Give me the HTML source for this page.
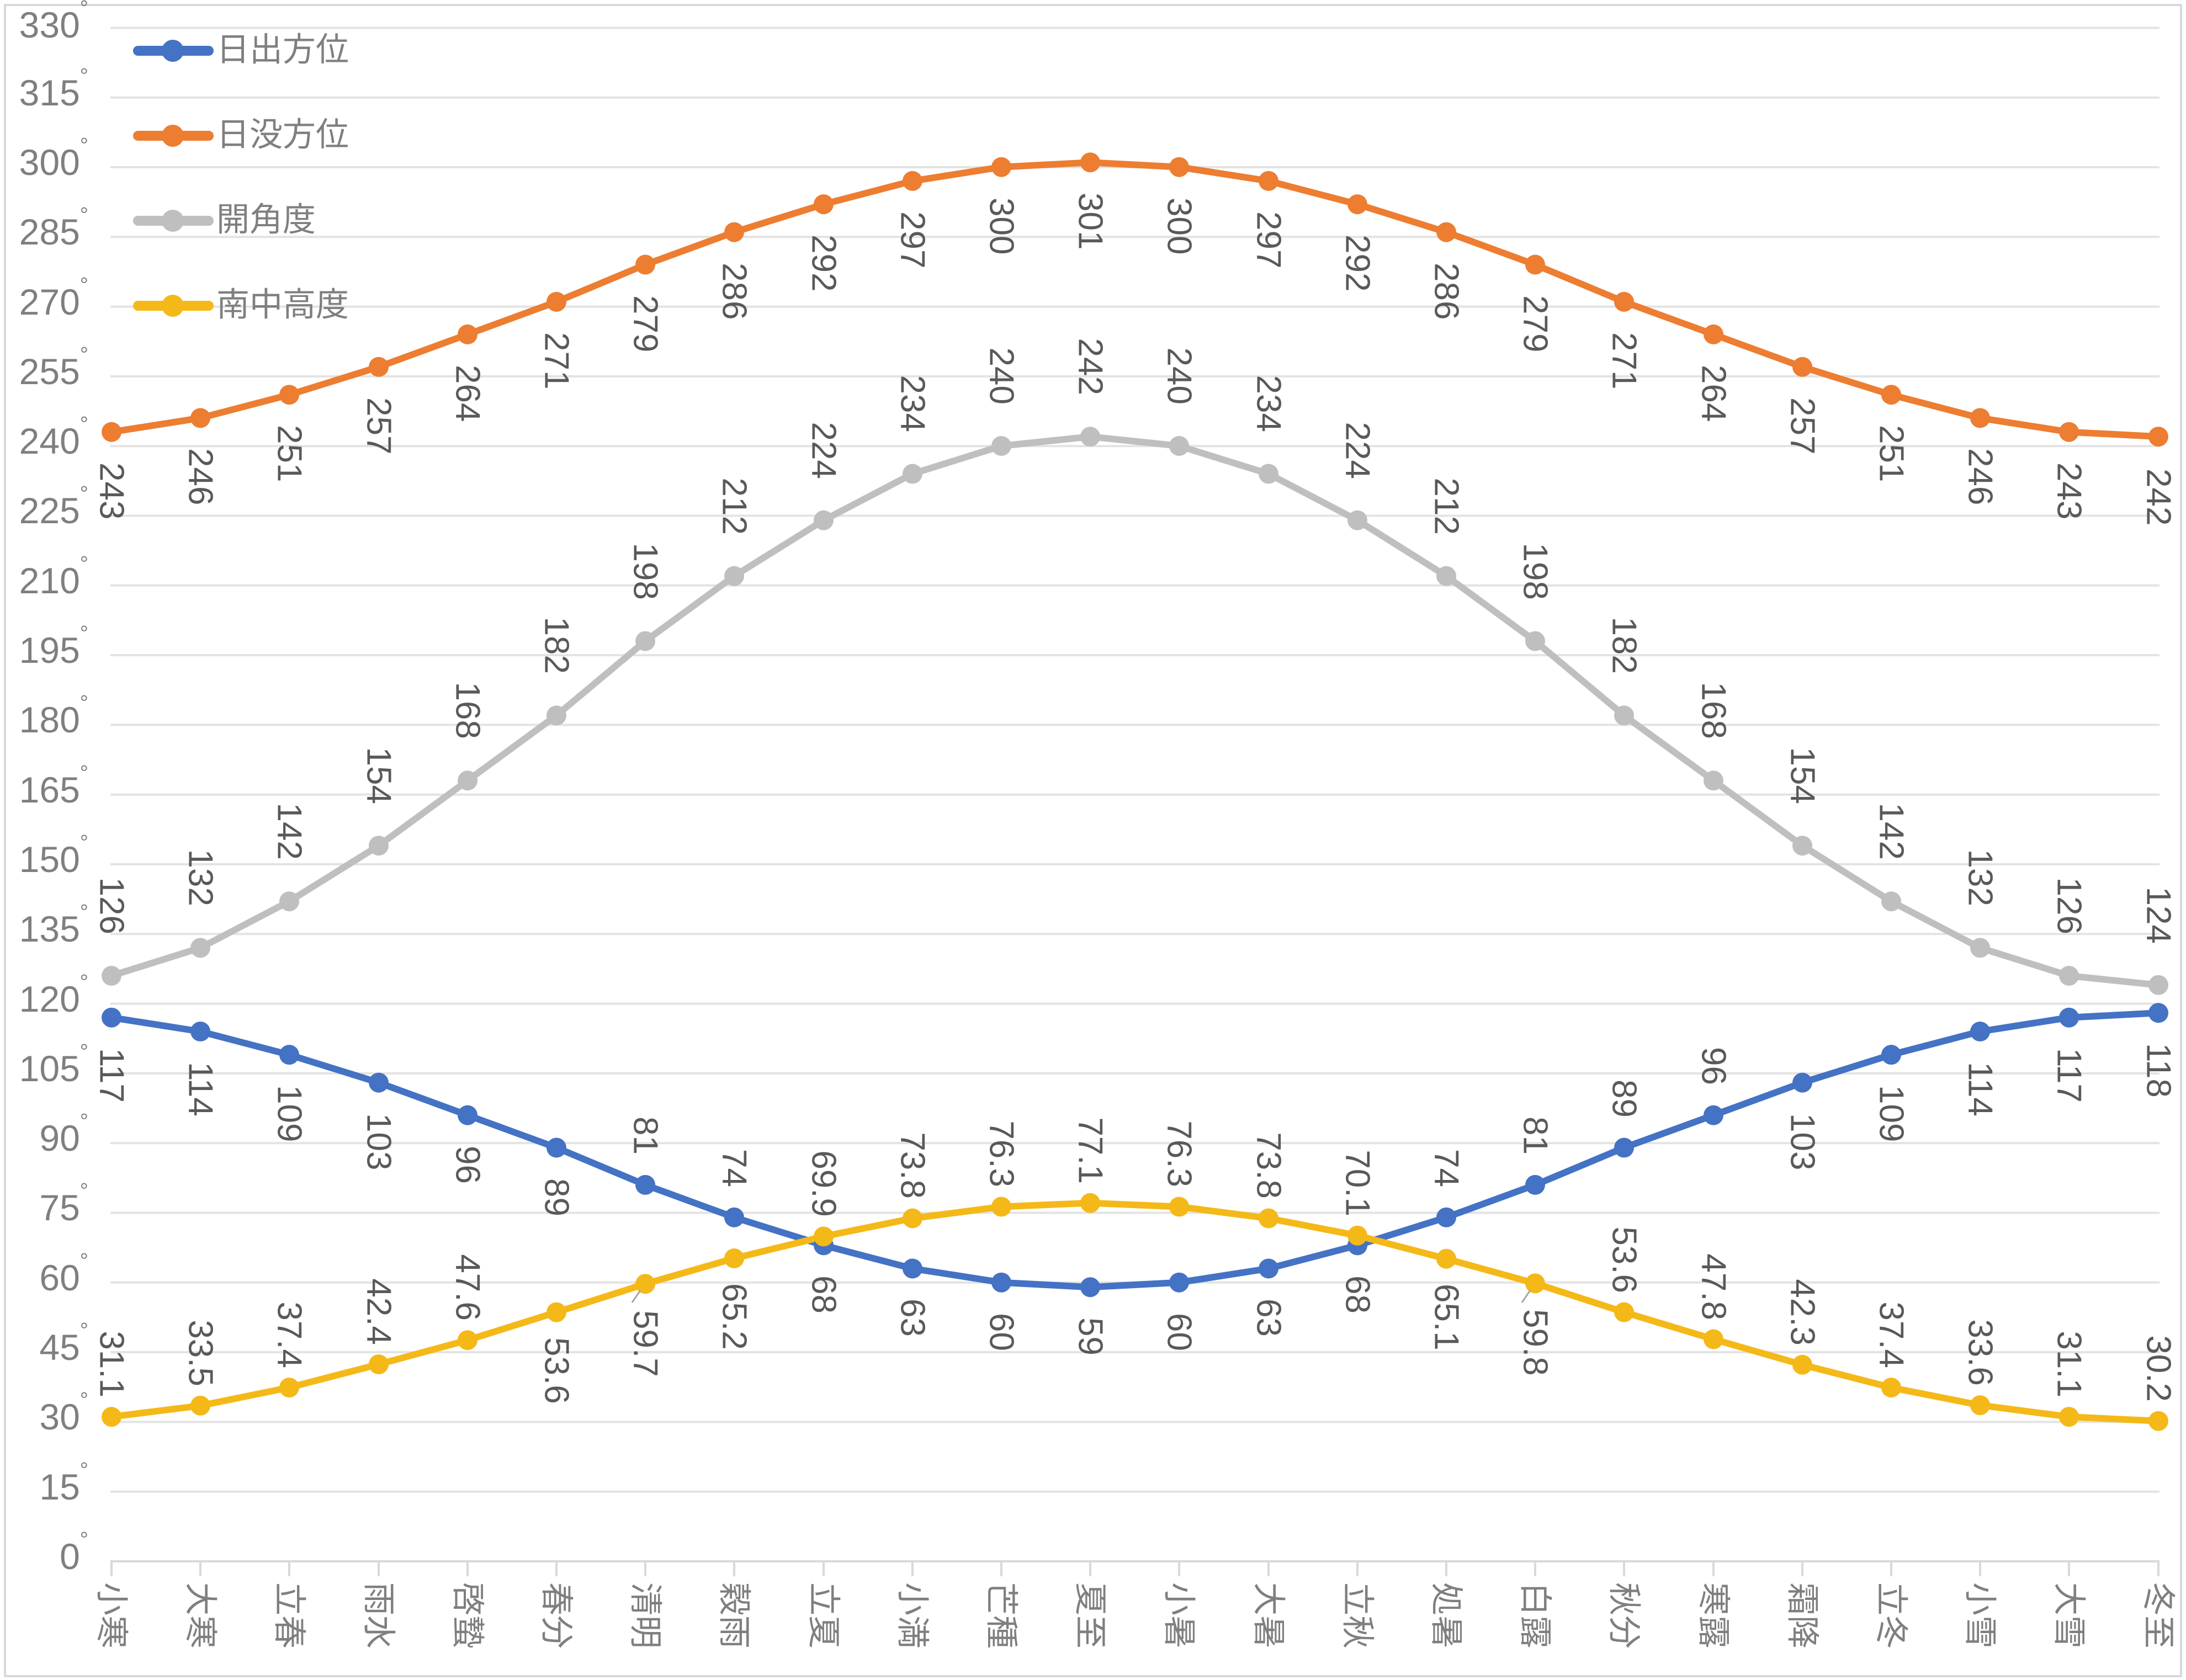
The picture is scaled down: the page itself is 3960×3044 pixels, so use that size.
<!DOCTYPE html>
<html><head><meta charset="utf-8"><style>
html,body{margin:0;padding:0;background:#fff;}
svg{display:block;}
.d{font-family:"Liberation Sans","Noto Sans CJK JP",sans-serif;font-size:62px;fill:#595959;dominant-baseline:central;}
.s{text-anchor:start}.e{text-anchor:end}
.yl{font-family:"Liberation Sans",sans-serif;font-size:66px;fill:#7f7f7f;text-anchor:end;dominant-baseline:central;}
.cl{font-family:"Liberation Sans","Noto Sans CJK JP",sans-serif;font-size:60px;fill:#7f7f7f;text-anchor:start;dominant-baseline:central;}
.lg{font-family:"Liberation Sans","Noto Sans CJK JP",sans-serif;font-size:60px;fill:#7f7f7f;dominant-baseline:central;}
</style></head><body>
<svg width="3960" height="3044" viewBox="0 0 3960 3044" xmlns="http://www.w3.org/2000/svg">
<rect x="0" y="0" width="3960" height="3044" fill="#fff"/>
<rect x="9" y="9" width="3942" height="3028" fill="none" stroke="#d9d9d9" stroke-width="4"/>
<g stroke="#e3e3e3" stroke-width="4">
<line x1="200" x2="3912" y1="50.4" y2="50.4"/><line x1="200" x2="3912" y1="176.7" y2="176.7"/><line x1="200" x2="3912" y1="303" y2="303"/><line x1="200" x2="3912" y1="429.3" y2="429.3"/><line x1="200" x2="3912" y1="555.6" y2="555.6"/><line x1="200" x2="3912" y1="681.9" y2="681.9"/><line x1="200" x2="3912" y1="808.2" y2="808.2"/><line x1="200" x2="3912" y1="934.5" y2="934.5"/><line x1="200" x2="3912" y1="1060.8" y2="1060.8"/><line x1="200" x2="3912" y1="1187.1" y2="1187.1"/><line x1="200" x2="3912" y1="1313.4" y2="1313.4"/><line x1="200" x2="3912" y1="1439.7" y2="1439.7"/><line x1="200" x2="3912" y1="1566" y2="1566"/><line x1="200" x2="3912" y1="1692.3" y2="1692.3"/><line x1="200" x2="3912" y1="1818.6" y2="1818.6"/><line x1="200" x2="3912" y1="1944.9" y2="1944.9"/><line x1="200" x2="3912" y1="2071.2" y2="2071.2"/><line x1="200" x2="3912" y1="2197.5" y2="2197.5"/><line x1="200" x2="3912" y1="2323.8" y2="2323.8"/><line x1="200" x2="3912" y1="2450.1" y2="2450.1"/><line x1="200" x2="3912" y1="2576.4" y2="2576.4"/><line x1="200" x2="3912" y1="2702.7" y2="2702.7"/>
</g>
<g stroke="#d9d9d9" stroke-width="4">
<line x1="200" x2="3912" y1="2829" y2="2829"/>
<line x1="202" x2="202" y1="2829" y2="2856"/><line x1="363" x2="363" y1="2829" y2="2856"/><line x1="524" x2="524" y1="2829" y2="2856"/><line x1="686" x2="686" y1="2829" y2="2856"/><line x1="847" x2="847" y1="2829" y2="2856"/><line x1="1008" x2="1008" y1="2829" y2="2856"/><line x1="1169" x2="1169" y1="2829" y2="2856"/><line x1="1330" x2="1330" y1="2829" y2="2856"/><line x1="1492" x2="1492" y1="2829" y2="2856"/><line x1="1653" x2="1653" y1="2829" y2="2856"/><line x1="1814" x2="1814" y1="2829" y2="2856"/><line x1="1975" x2="1975" y1="2829" y2="2856"/><line x1="2136" x2="2136" y1="2829" y2="2856"/><line x1="2298" x2="2298" y1="2829" y2="2856"/><line x1="2459" x2="2459" y1="2829" y2="2856"/><line x1="2620" x2="2620" y1="2829" y2="2856"/><line x1="2781" x2="2781" y1="2829" y2="2856"/><line x1="2942" x2="2942" y1="2829" y2="2856"/><line x1="3104" x2="3104" y1="2829" y2="2856"/><line x1="3265" x2="3265" y1="2829" y2="2856"/><line x1="3426" x2="3426" y1="2829" y2="2856"/><line x1="3587" x2="3587" y1="2829" y2="2856"/><line x1="3748" x2="3748" y1="2829" y2="2856"/><line x1="3910" x2="3910" y1="2829" y2="2856"/>
</g>
<g class="yl">
<text x="160" y="2820">0<tspan font-size="38" dy="-30">°</tspan></text>
<text x="160" y="2694">15<tspan font-size="38" dy="-30">°</tspan></text>
<text x="160" y="2567">30<tspan font-size="38" dy="-30">°</tspan></text>
<text x="160" y="2441">45<tspan font-size="38" dy="-30">°</tspan></text>
<text x="160" y="2315">60<tspan font-size="38" dy="-30">°</tspan></text>
<text x="160" y="2188">75<tspan font-size="38" dy="-30">°</tspan></text>
<text x="160" y="2062">90<tspan font-size="38" dy="-30">°</tspan></text>
<text x="160" y="1936">105<tspan font-size="38" dy="-30">°</tspan></text>
<text x="160" y="1810">120<tspan font-size="38" dy="-30">°</tspan></text>
<text x="160" y="1683">135<tspan font-size="38" dy="-30">°</tspan></text>
<text x="160" y="1557">150<tspan font-size="38" dy="-30">°</tspan></text>
<text x="160" y="1431">165<tspan font-size="38" dy="-30">°</tspan></text>
<text x="160" y="1304">180<tspan font-size="38" dy="-30">°</tspan></text>
<text x="160" y="1178">195<tspan font-size="38" dy="-30">°</tspan></text>
<text x="160" y="1052">210<tspan font-size="38" dy="-30">°</tspan></text>
<text x="160" y="925">225<tspan font-size="38" dy="-30">°</tspan></text>
<text x="160" y="799">240<tspan font-size="38" dy="-30">°</tspan></text>
<text x="160" y="673">255<tspan font-size="38" dy="-30">°</tspan></text>
<text x="160" y="547">270<tspan font-size="38" dy="-30">°</tspan></text>
<text x="160" y="420">285<tspan font-size="38" dy="-30">°</tspan></text>
<text x="160" y="294">300<tspan font-size="38" dy="-30">°</tspan></text>
<text x="160" y="168">315<tspan font-size="38" dy="-30">°</tspan></text>
<text x="160" y="45">330<tspan font-size="38" dy="-30">°</tspan></text>
</g>
<g class="cl">
<text transform="translate(202,2867) rotate(90)">小寒</text>
<text transform="translate(363,2867) rotate(90)">大寒</text>
<text transform="translate(524,2867) rotate(90)">立春</text>
<text transform="translate(686,2867) rotate(90)">雨水</text>
<text transform="translate(847,2867) rotate(90)">啓蟄</text>
<text transform="translate(1008,2867) rotate(90)">春分</text>
<text transform="translate(1169,2867) rotate(90)">清明</text>
<text transform="translate(1330,2867) rotate(90)">穀雨</text>
<text transform="translate(1492,2867) rotate(90)">立夏</text>
<text transform="translate(1653,2867) rotate(90)">小満</text>
<text transform="translate(1814,2867) rotate(90)">芒種</text>
<text transform="translate(1975,2867) rotate(90)">夏至</text>
<text transform="translate(2136,2867) rotate(90)">小暑</text>
<text transform="translate(2298,2867) rotate(90)">大暑</text>
<text transform="translate(2459,2867) rotate(90)">立秋</text>
<text transform="translate(2620,2867) rotate(90)">処暑</text>
<text transform="translate(2781,2867) rotate(90)">白露</text>
<text transform="translate(2942,2867) rotate(90)">秋分</text>
<text transform="translate(3104,2867) rotate(90)">寒露</text>
<text transform="translate(3265,2867) rotate(90)">霜降</text>
<text transform="translate(3426,2867) rotate(90)">立冬</text>
<text transform="translate(3587,2867) rotate(90)">小雪</text>
<text transform="translate(3748,2867) rotate(90)">大雪</text>
<text transform="translate(3910,2867) rotate(90)">冬至</text>
</g>
<g fill="none" stroke-width="12" stroke-linejoin="round">
<polyline stroke="#ed7d31" points="202,782.7 363,757.4 524,715.3 686,664.8 847,605.9 1008,546.9 1169,479.5 1330,420.6 1492,370.1 1653,327.9 1814,302.7 1975,294.3 2136,302.7 2298,327.9 2459,370.1 2620,420.6 2781,479.5 2942,546.9 3104,605.9 3265,664.8 3426,715.3 3587,757.4 3748,782.7 3910,791.1"/>
<polyline stroke="#bfbfbf" points="202,1768 363,1717.4 524,1633.2 686,1532.2 847,1414.3 1008,1296.4 1169,1161.6 1330,1043.7 1492,942.7 1653,858.5 1814,808 1975,791.1 2136,808 2298,858.5 2459,942.7 2620,1043.7 2781,1161.6 2942,1296.4 3104,1414.3 3265,1532.2 3426,1633.2 3587,1717.4 3748,1768 3910,1784.8"/>
<polyline stroke="#4472c4" points="202,1843.7 363,1869 524,1911.1 686,1961.6 847,2020.6 1008,2079.5 1169,2146.9 1330,2205.8 1492,2256.4 1653,2298.5 1814,2323.7 1975,2332.2 2136,2323.7 2298,2298.5 2459,2256.4 2620,2205.8 2781,2146.9 2942,2079.5 3104,2020.6 3265,1961.6 3426,1911.1 3587,1869 3748,1843.7 3910,1835.3"/>
<polyline stroke="#f4b918" points="202,2567.1 363,2546.9 524,2514.1 686,2472 847,2428.2 1008,2377.6 1169,2326.3 1330,2280 1492,2240.4 1653,2207.5 1814,2186.5 1975,2179.7 2136,2186.5 2298,2207.5 2459,2238.7 2620,2280.8 2781,2325.4 2942,2377.6 3104,2426.5 3265,2472.8 3426,2514.1 3587,2546.1 3748,2567.1 3910,2574.7"/>
</g>
<g fill="#ed7d31"><circle cx="202" cy="782.7" r="18"/><circle cx="363" cy="757.4" r="18"/><circle cx="524" cy="715.3" r="18"/><circle cx="686" cy="664.8" r="18"/><circle cx="847" cy="605.9" r="18"/><circle cx="1008" cy="546.9" r="18"/><circle cx="1169" cy="479.5" r="18"/><circle cx="1330" cy="420.6" r="18"/><circle cx="1492" cy="370.1" r="18"/><circle cx="1653" cy="327.9" r="18"/><circle cx="1814" cy="302.7" r="18"/><circle cx="1975" cy="294.3" r="18"/><circle cx="2136" cy="302.7" r="18"/><circle cx="2298" cy="327.9" r="18"/><circle cx="2459" cy="370.1" r="18"/><circle cx="2620" cy="420.6" r="18"/><circle cx="2781" cy="479.5" r="18"/><circle cx="2942" cy="546.9" r="18"/><circle cx="3104" cy="605.9" r="18"/><circle cx="3265" cy="664.8" r="18"/><circle cx="3426" cy="715.3" r="18"/><circle cx="3587" cy="757.4" r="18"/><circle cx="3748" cy="782.7" r="18"/><circle cx="3910" cy="791.1" r="18"/></g>
<g fill="#bfbfbf"><circle cx="202" cy="1768" r="18"/><circle cx="363" cy="1717.4" r="18"/><circle cx="524" cy="1633.2" r="18"/><circle cx="686" cy="1532.2" r="18"/><circle cx="847" cy="1414.3" r="18"/><circle cx="1008" cy="1296.4" r="18"/><circle cx="1169" cy="1161.6" r="18"/><circle cx="1330" cy="1043.7" r="18"/><circle cx="1492" cy="942.7" r="18"/><circle cx="1653" cy="858.5" r="18"/><circle cx="1814" cy="808" r="18"/><circle cx="1975" cy="791.1" r="18"/><circle cx="2136" cy="808" r="18"/><circle cx="2298" cy="858.5" r="18"/><circle cx="2459" cy="942.7" r="18"/><circle cx="2620" cy="1043.7" r="18"/><circle cx="2781" cy="1161.6" r="18"/><circle cx="2942" cy="1296.4" r="18"/><circle cx="3104" cy="1414.3" r="18"/><circle cx="3265" cy="1532.2" r="18"/><circle cx="3426" cy="1633.2" r="18"/><circle cx="3587" cy="1717.4" r="18"/><circle cx="3748" cy="1768" r="18"/><circle cx="3910" cy="1784.8" r="18"/></g>
<g fill="#4472c4"><circle cx="202" cy="1843.7" r="18"/><circle cx="363" cy="1869" r="18"/><circle cx="524" cy="1911.1" r="18"/><circle cx="686" cy="1961.6" r="18"/><circle cx="847" cy="2020.6" r="18"/><circle cx="1008" cy="2079.5" r="18"/><circle cx="1169" cy="2146.9" r="18"/><circle cx="1330" cy="2205.8" r="18"/><circle cx="1492" cy="2256.4" r="18"/><circle cx="1653" cy="2298.5" r="18"/><circle cx="1814" cy="2323.7" r="18"/><circle cx="1975" cy="2332.2" r="18"/><circle cx="2136" cy="2323.7" r="18"/><circle cx="2298" cy="2298.5" r="18"/><circle cx="2459" cy="2256.4" r="18"/><circle cx="2620" cy="2205.8" r="18"/><circle cx="2781" cy="2146.9" r="18"/><circle cx="2942" cy="2079.5" r="18"/><circle cx="3104" cy="2020.6" r="18"/><circle cx="3265" cy="1961.6" r="18"/><circle cx="3426" cy="1911.1" r="18"/><circle cx="3587" cy="1869" r="18"/><circle cx="3748" cy="1843.7" r="18"/><circle cx="3910" cy="1835.3" r="18"/></g>
<g fill="#f4b918"><circle cx="202" cy="2567.1" r="18"/><circle cx="363" cy="2546.9" r="18"/><circle cx="524" cy="2514.1" r="18"/><circle cx="686" cy="2472" r="18"/><circle cx="847" cy="2428.2" r="18"/><circle cx="1008" cy="2377.6" r="18"/><circle cx="1169" cy="2326.3" r="18"/><circle cx="1330" cy="2280" r="18"/><circle cx="1492" cy="2240.4" r="18"/><circle cx="1653" cy="2207.5" r="18"/><circle cx="1814" cy="2186.5" r="18"/><circle cx="1975" cy="2179.7" r="18"/><circle cx="2136" cy="2186.5" r="18"/><circle cx="2298" cy="2207.5" r="18"/><circle cx="2459" cy="2238.7" r="18"/><circle cx="2620" cy="2280.8" r="18"/><circle cx="2781" cy="2325.4" r="18"/><circle cx="2942" cy="2377.6" r="18"/><circle cx="3104" cy="2426.5" r="18"/><circle cx="3265" cy="2472.8" r="18"/><circle cx="3426" cy="2514.1" r="18"/><circle cx="3587" cy="2546.1" r="18"/><circle cx="3748" cy="2567.1" r="18"/><circle cx="3910" cy="2574.7" r="18"/></g>
<g stroke="#a6a6a6" stroke-width="3"><line x1="1160" y1="2338" x2="1145" y2="2360"/><line x1="2772" y1="2338" x2="2757" y2="2360"/></g>
<g class="d s">
<text transform="translate(202,838) rotate(90)">243</text><text transform="translate(363,812) rotate(90)">246</text><text transform="translate(524,770) rotate(90)">251</text><text transform="translate(686,720) rotate(90)">257</text><text transform="translate(847,661) rotate(90)">264</text><text transform="translate(1008,602) rotate(90)">271</text><text transform="translate(1169,535) rotate(90)">279</text><text transform="translate(1330,476) rotate(90)">286</text><text transform="translate(1492,425) rotate(90)">292</text><text transform="translate(1653,383) rotate(90)">297</text><text transform="translate(1814,358) rotate(90)">300</text><text transform="translate(1975,349) rotate(90)">301</text><text transform="translate(2136,358) rotate(90)">300</text><text transform="translate(2298,383) rotate(90)">297</text><text transform="translate(2459,425) rotate(90)">292</text><text transform="translate(2620,476) rotate(90)">286</text><text transform="translate(2781,535) rotate(90)">279</text><text transform="translate(2942,602) rotate(90)">271</text><text transform="translate(3104,661) rotate(90)">264</text><text transform="translate(3265,720) rotate(90)">257</text><text transform="translate(3426,770) rotate(90)">251</text><text transform="translate(3587,812) rotate(90)">246</text><text transform="translate(3748,838) rotate(90)">243</text><text transform="translate(3910,849) rotate(90)">242</text>
</g>
<g class="d e">
<text transform="translate(202,1693) rotate(90)">126</text><text transform="translate(363,1642) rotate(90)">132</text><text transform="translate(524,1558) rotate(90)">142</text><text transform="translate(686,1457) rotate(90)">154</text><text transform="translate(847,1339) rotate(90)">168</text><text transform="translate(1008,1221) rotate(90)">182</text><text transform="translate(1169,1087) rotate(90)">198</text><text transform="translate(1330,969) rotate(90)">212</text><text transform="translate(1492,868) rotate(90)">224</text><text transform="translate(1653,783) rotate(90)">234</text><text transform="translate(1814,733) rotate(90)">240</text><text transform="translate(1975,716) rotate(90)">242</text><text transform="translate(2136,733) rotate(90)">240</text><text transform="translate(2298,783) rotate(90)">234</text><text transform="translate(2459,868) rotate(90)">224</text><text transform="translate(2620,969) rotate(90)">212</text><text transform="translate(2781,1087) rotate(90)">198</text><text transform="translate(2942,1221) rotate(90)">182</text><text transform="translate(3104,1339) rotate(90)">168</text><text transform="translate(3265,1457) rotate(90)">154</text><text transform="translate(3426,1558) rotate(90)">142</text><text transform="translate(3587,1642) rotate(90)">132</text><text transform="translate(3748,1693) rotate(90)">126</text><text transform="translate(3910,1710) rotate(90)">124</text>
</g>
<g class="d s">
<text transform="translate(202,1899) rotate(90)">117</text><text transform="translate(363,1924) rotate(90)">114</text><text transform="translate(524,1966) rotate(90)">109</text><text transform="translate(686,2017) rotate(90)">103</text><text transform="translate(847,2076) rotate(90)">96</text><text transform="translate(1008,2135) rotate(90)">89</text><text transform="translate(1492,2311) rotate(90)">68</text><text transform="translate(1653,2353) rotate(90)">63</text><text transform="translate(1814,2379) rotate(90)">60</text><text transform="translate(1975,2387) rotate(90)">59</text><text transform="translate(2136,2379) rotate(90)">60</text><text transform="translate(2298,2353) rotate(90)">63</text><text transform="translate(2459,2311) rotate(90)">68</text><text transform="translate(3265,2017) rotate(90)">103</text><text transform="translate(3426,1966) rotate(90)">109</text><text transform="translate(3587,1924) rotate(90)">114</text><text transform="translate(3748,1899) rotate(90)">117</text><text transform="translate(3910,1890) rotate(90)">118</text>
</g>
<g class="d e">
<text transform="translate(1169,2092) rotate(90)">81</text><text transform="translate(1330,2151) rotate(90)">74</text>
<text transform="translate(2620,2151) rotate(90)">74</text><text transform="translate(2781,2092) rotate(90)">81</text><text transform="translate(2942,2025) rotate(90)">89</text><text transform="translate(3104,1966) rotate(90)">96</text>
</g>
<g class="d e">
<text transform="translate(202,2532) rotate(90)">31.1</text><text transform="translate(363,2512) rotate(90)">33.5</text><text transform="translate(524,2479) rotate(90)">37.4</text><text transform="translate(686,2437) rotate(90)">42.4</text><text transform="translate(847,2393) rotate(90)">47.6</text><text transform="translate(1492,2205) rotate(90)">69.9</text><text transform="translate(1653,2172) rotate(90)">73.8</text><text transform="translate(1814,2151) rotate(90)">76.3</text><text transform="translate(1975,2145) rotate(90)">77.1</text><text transform="translate(2136,2151) rotate(90)">76.3</text><text transform="translate(2298,2172) rotate(90)">73.8</text><text transform="translate(2459,2204) rotate(90)">70.1</text><text transform="translate(2942,2343) rotate(90)">53.6</text><text transform="translate(3104,2392) rotate(90)">47.8</text><text transform="translate(3265,2438) rotate(90)">42.3</text><text transform="translate(3426,2479) rotate(90)">37.4</text><text transform="translate(3587,2511) rotate(90)">33.6</text><text transform="translate(3748,2532) rotate(90)">31.1</text><text transform="translate(3910,2540) rotate(90)">30.2</text>
</g>
<g class="d s">
<text transform="translate(1008,2423) rotate(90)">53.6</text><text transform="translate(1169,2374) rotate(90)">59.7</text><text transform="translate(1330,2325) rotate(90)">65.2</text><text transform="translate(2620,2326) rotate(90)">65.1</text><text transform="translate(2781,2372) rotate(90)">59.8</text>
</g>
<g stroke-width="18" stroke-linecap="round">
<line x1="250" x2="378" y1="92" y2="92" stroke="#4472c4"/>
<line x1="250" x2="378" y1="246" y2="246" stroke="#ed7d31"/>
<line x1="250" x2="378" y1="400" y2="400" stroke="#bfbfbf"/>
<line x1="250" x2="378" y1="554" y2="554" stroke="#f4b918"/>
</g>
<circle cx="313" cy="92" r="20" fill="#4472c4"/>
<circle cx="313" cy="246" r="20" fill="#ed7d31"/>
<circle cx="313" cy="400" r="20" fill="#bfbfbf"/>
<circle cx="313" cy="554" r="20" fill="#f4b918"/>
<g class="lg">
<text x="392" y="90">日出方位</text>
<text x="392" y="244">日没方位</text>
<text x="392" y="398">開角度</text>
<text x="392" y="552">南中高度</text>
</g>
</svg>
</body></html>
